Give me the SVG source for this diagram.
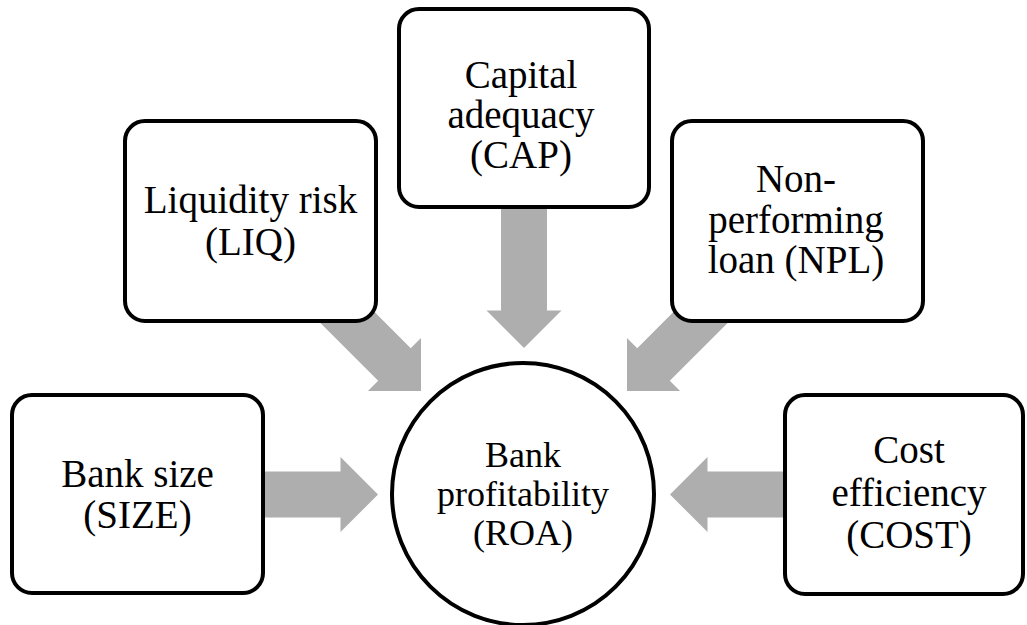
<svg xmlns="http://www.w3.org/2000/svg" xmlns:xlink="http://www.w3.org/1999/xlink" width="1027" height="625" viewBox="0 0 1027 625">
<style>
.box{fill:#ffffff;stroke:#000000;stroke-width:4}
.arrow{fill:#aeaeae;stroke:none}
.t{font-family:'Liberation Serif','Times New Roman',serif;font-size:39px;fill:#000000;text-anchor:middle}
.small{font-size:36px}
</style>
<defs>
<path id="arr" d="M0,0 L-37.5,-37.5 L-37.5,-23 L-160,-23 L-160,23 L-37.5,23 L-37.5,37.5 Z"/>
</defs>
<rect width="1027" height="625" fill="#ffffff"/>
<g id="connectors">
<use xlink:href="#arr" class="arrow" transform="translate(378,494.5)"/>
<use xlink:href="#arr" class="arrow" transform="translate(670,494.5) rotate(180)"/>
<use xlink:href="#arr" class="arrow" transform="translate(524,348) rotate(90)"/>
<use xlink:href="#arr" class="arrow" transform="translate(421,391) rotate(45)"/>
<use xlink:href="#arr" class="arrow" transform="translate(627,391) rotate(135)"/>
</g>
<g id="size">
<rect class="box" x="12" y="395" width="251" height="198" rx="20"/>
<text class="t" x="137.5" y="486.5">Bank size</text>
<text class="t" x="137.5" y="527.5">(SIZE)</text>
</g>
<g id="liq">
<rect class="box" x="125" y="121" width="251" height="200" rx="20"/>
<text class="t" x="250.5" y="213">Liquidity risk</text>
<text class="t" x="250.5" y="255">(LIQ)</text>
</g>
<g id="cap">
<rect class="box" x="399" y="9" width="250" height="198" rx="20"/>
<text class="t" x="521" y="87.5">Capital</text>
<text class="t" x="521" y="128">adequacy</text>
<text class="t" x="521" y="167.5">(CAP)</text>
</g>
<g id="npl">
<rect class="box" x="672" y="121" width="251" height="200" rx="20"/>
<text class="t" x="796" y="192">Non-</text>
<text class="t" x="796" y="233">performing</text>
<text class="t" x="796" y="273">loan (NPL)</text>
</g>
<g id="cost">
<rect class="box" x="785" y="395" width="238" height="199" rx="20"/>
<text class="t" x="909" y="463">Cost</text>
<text class="t" x="909" y="506">efficiency</text>
<text class="t" x="909" y="548">(COST)</text>
</g>
<g id="roa">
<circle class="box" cx="523" cy="494" r="131"/>
<text class="t small" x="523" y="467">Bank</text>
<text class="t small" x="523" y="506">profitability</text>
<text class="t small" x="523" y="545">(ROA)</text>
</g>
</svg>
